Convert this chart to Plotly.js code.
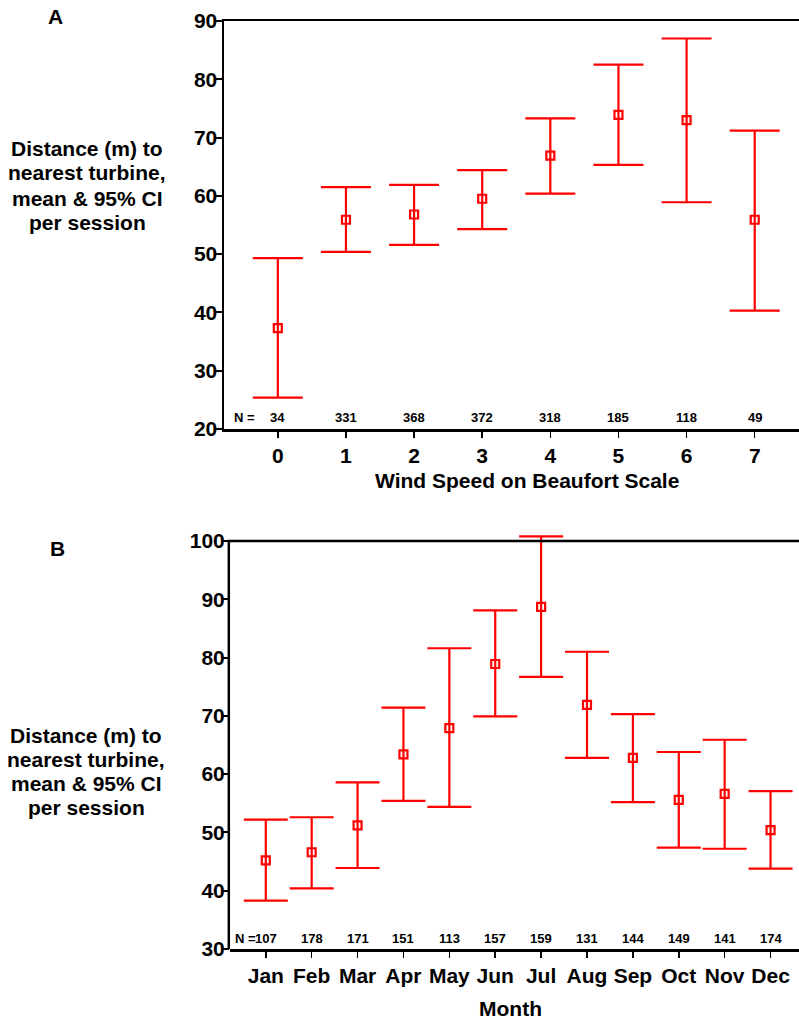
<!DOCTYPE html>
<html>
<head>
<meta charset="utf-8">
<script src="https://cdn.plot.ly/plotly-3.0.1.min.js"></script>
<style>html,body{margin:0;padding:0;background:#fff;}#chart{width:799px;height:1022px;}</style>
</head>
<body>
<div id="chart"></div>
<script>
// Panel A data: wind speed on Beaufort scale
const beaufort = [0, 1, 2, 3, 4, 5, 6, 7];
const meanA  = [37.3, 55.9, 56.8, 59.5, 66.9, 73.9, 73.0, 55.9];
const upperA = [49.3, 61.5, 61.9, 64.4, 73.3, 82.5, 87.0, 71.2];
const lowerA = [25.4, 50.4, 51.6, 54.3, 60.4, 65.3, 58.9, 40.3];
const nA     = [34, 331, 368, 372, 318, 185, 118, 49];

// Panel B data: month
const months = ["Jan","Feb","Mar","Apr","May","Jun","Jul","Aug","Sep","Oct","Nov","Dec"];
const meanB  = [45.2, 46.6, 51.2, 63.4, 67.9, 78.9, 88.7, 71.9, 62.8, 55.6, 56.6, 50.4];
const upperB = [52.2, 52.6, 58.6, 71.4, 81.6, 88.1, 100.8, 81.0, 70.3, 63.8, 65.9, 57.1];
const lowerB = [38.3, 40.4, 43.9, 55.4, 54.4, 69.9, 76.7, 62.8, 55.2, 47.4, 47.2, 43.8];
const nB     = [107, 178, 171, 151, 113, 157, 159, 131, 144, 149, 141, 174];

const yTitleLines = ["Distance (m) to", "nearest turbine,", "mean &amp; 95% CI", "per session"];

const W = 799, H = 1022;
const px = x => x / W;
const py = y => 1 - y / H;
const FAM = "Liberation Sans, Arial, sans-serif";
const RED = "#ff0000";
const PPU = 408 / 70; // pixels per data unit on both value axes

const idxB = months.map((m, i) => i);

function trace(xs, mean, up, lo, xa, ya, capw) {
  return {
    type: "scatter", mode: "markers", x: xs, y: mean, xaxis: xa, yaxis: ya,
    cliponaxis: false, hoverinfo: "skip",
    marker: {symbol: "square-open", size: 8, color: RED, line: {width: 2.2, color: RED}},
    error_y: {
      type: "data", symmetric: false,
      array: up.map((u, i) => u - mean[i]),
      arrayminus: lo.map((l, i) => mean[i] - l),
      color: RED, thickness: 2.2, width: capw
    }
  };
}

const data = [
  trace(beaufort, meanA, upperA, lowerA, "x", "y", 25),
  trace(idxB, meanB, upperB, lowerB, "x2", "y2", 22)
];

const tickFont = {family: FAM, size: 21, color: "#000", weight: "bold"};
const axCommon = {
  showline: true, linecolor: "#000", linewidth: 2.5, ticks: "outside",
  tickcolor: "#000", showgrid: false, zeroline: false, tickfont: tickFont, fixedrange: true
};

const ann = [];
const bold = (t, size, x, y, extra) => Object.assign({
  text: t, x: x, y: y, xref: "paper", yref: "paper", showarrow: false,
  xanchor: "center", yanchor: "middle",
  font: {family: FAM, size: size, color: "#000", weight: "bold"}
}, extra || {});

ann.push(bold("A", 21, px(55), py(17)));
ann.push(bold("B", 21, px(58), py(548)));
const linesA = [148, 173, 198, 222], linesB = [735, 759, 783, 807];
yTitleLines.forEach((t, i) => {
  ann.push(bold(t, 21, px(87), py(linesA[i])));
  ann.push(bold(t, 21, px(86), py(linesB[i])));
});
ann.push(bold("Wind Speed on Beaufort Scale", 21, px(527), py(480)));
ann.push(bold("Month", 21, px(510), py(1008)));

ann.push(bold("N =", 13, px(232), py(418), {xanchor: "left"}));
beaufort.forEach((b, i) => ann.push(bold(String(nA[i]), 13, b, py(418), {xref: "x"})));
ann.push(bold("N =", 13, px(233), py(938), {xanchor: "left"}));
idxB.forEach((b, i) => ann.push(bold(String(nB[i]), 13, b, py(938), {xref: "x2"})));

// Panel B value axis is extended a little above 100 so the Jul error bar is not clipped;
// its frame lines are drawn as shapes ending at 100.
const bTop = 541, bBot = 949, bExtTop = 528;
const y2max = 30 + (bBot - bExtTop) / PPU;

const shapes = [
  {type: "line", xref: "paper", yref: "y2", x0: px(228.8), x1: px(228.8), y0: 30, y1: 100,
   line: {color: "#000", width: 2.5}},
  {type: "line", xref: "paper", yref: "y2", x0: px(227.6), x1: 1, y0: 100, y1: 100,
   line: {color: "#000", width: 2.5}}
];

const layout = {
  width: W, height: H, margin: {l: 0, r: 0, t: 0, b: 0},
  paper_bgcolor: "#fff", plot_bgcolor: "#fff", showlegend: false,
  xaxis: Object.assign({}, axCommon, {
    domain: [px(224), 1], range: [-0.79, 7.65], anchor: "y", mirror: true,
    tickvals: beaufort, ticktext: beaufort.map(String), ticklen: 6, tickwidth: 1.5
  }),
  yaxis: Object.assign({}, axCommon, {
    domain: [py(429), py(21)], range: [20, 90], anchor: "x",
    tick0: 20, dtick: 10, ticklen: 6, tickwidth: 2, ticklabelstandoff: -6
  }),
  xaxis2: Object.assign({}, axCommon, {
    domain: [px(230), 1], range: [-0.78, 11.62], anchor: "y2", mirror: false,
    tickvals: idxB, ticktext: months, ticklen: 6, tickwidth: 1.5
  }),
  yaxis2: Object.assign({}, axCommon, {
    domain: [py(bBot), py(bExtTop)], range: [30, y2max], anchor: "x2", showline: false,
    tickvals: [30, 40, 50, 60, 70, 80, 90, 100], ticklen: 6, tickwidth: 2, ticklabelstandoff: -6
  }),
  annotations: ann,
  shapes: shapes
};

Plotly.newPlot("chart", data, layout, {staticPlot: true, displayModeBar: false});
</script>
</body>
</html>
